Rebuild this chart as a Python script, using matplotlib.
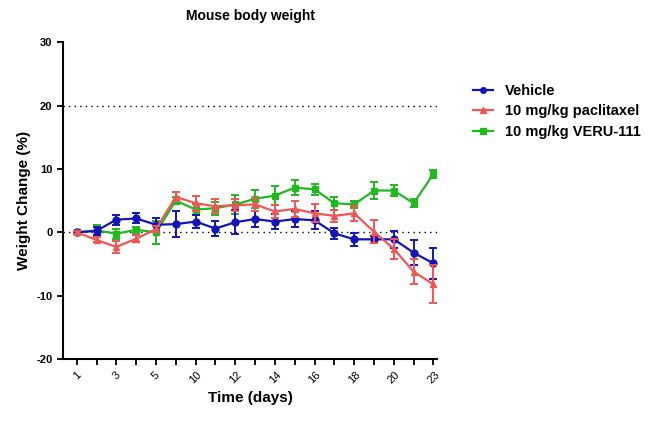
import matplotlib
matplotlib.use("Agg")
import matplotlib.pyplot as plt
from matplotlib.lines import Line2D
import numpy as np

plt.rcParams['font.family'] = ['Liberation Sans', 'DejaVu Sans']

tick_labels = ['1', '', '3', '', '5', '', '10', '', '12', '', '14', '', '16', '', '18', '', '20', '', '23']

vehicle = [0.0, 0.25, 2.0, 2.2, 1.2, 1.3, 1.7, 0.6, 1.6, 2.1, 1.7, 2.1, 1.9, -0.15, -1.1, -1.1, -1.1, -3.2, -4.9]
vehicle_err = [0.2, 0.6, 0.8, 0.8, 1.0, 2.1, 1.0, 1.2, 1.9, 1.2, 1.2, 1.2, 1.4, 0.9, 1.0, 0.6, 1.3, 2.0, 2.4]

paclitaxel = [0.0, -1.2, -2.3, -1.0, 0.5, 5.6, 4.6, 4.1, 4.3, 4.4, 3.3, 3.7, 3.0, 2.6, 3.0, 0.1, -2.6, -6.2, -8.2]
paclitaxel_err = [0.2, 0.4, 1.0, 0.6, 0.5, 0.7, 1.2, 1.1, 1.0, 1.0, 1.0, 1.3, 1.4, 1.0, 1.2, 1.8, 1.6, 2.0, 3.0]

veru = [0.0, 0.3, -0.2, 0.4, 0.0, 5.0, 3.6, 3.8, 4.4, 5.3, 5.8, 7.05, 6.8, 4.6, 4.4, 6.6, 6.6, 4.6, 9.2]
veru_err = [0.2, 0.8, 0.8, 0.5, 1.8, 0.6, 0.8, 1.0, 1.5, 1.4, 1.5, 1.2, 0.9, 1.0, 0.6, 1.3, 0.9, 0.6, 0.6]

series_names = ['Vehicle', '10 mg/kg paclitaxel', '10 mg/kg VERU-111']

x = np.arange(len(tick_labels))

fig = plt.figure(figsize=(6.48, 4.22), dpi=100)
ax = fig.add_axes([0.097, 0.149, 0.578, 0.751])

ax.axhline(0, color='black', linestyle=(0, (1, 3)), linewidth=1, zorder=0)
ax.axhline(20, color='black', linestyle=(0, (1, 3)), linewidth=1, zorder=0)

blue = '#1414B8'
red = '#F25555'
green = '#22B822'
colors = [blue, red, green]
markers = ['o', '^', 's']

ax.errorbar(x, vehicle, yerr=vehicle_err, color=blue, marker='o', markersize=5,
            linewidth=1.6, elinewidth=1.4, capsize=3, capthick=1.4, zorder=3)
ax.errorbar(x, paclitaxel, yerr=paclitaxel_err, color=red, marker='^', markersize=5,
            linewidth=1.6, elinewidth=1.4, capsize=3, capthick=1.4, zorder=4)
ax.errorbar(x, veru, yerr=veru_err, color=green, marker='s', markersize=5,
            linewidth=1.6, elinewidth=1.4, capsize=3, capthick=1.4, zorder=2)

ax.set_xlim(-0.7, 18.2)
ax.set_ylim(-20, 30)
ax.set_yticks([-20, -10, 0, 10, 20, 30])
ax.set_yticklabels(['-20', '-10', '0', '10', '20', '30'], fontweight='bold', fontsize=8)
ax.set_xticks(x)
ax.set_xticklabels(tick_labels, rotation=45, fontsize=8, ha='center')

for s in ['top', 'right']:
    ax.spines[s].set_visible(False)
for s in ['left', 'bottom']:
    ax.spines[s].set_linewidth(1.5)
ax.tick_params(width=1.3, length=4, direction='out')

ax.set_ylabel('Weight Change (%)', fontweight='bold', fontsize=11)
ax.set_xlabel('Time (days)', fontweight='bold', fontsize=11)
ax.set_title('Mouse body weight', fontweight='bold', fontsize=10, pad=16)

handles = [Line2D([], [], color=c, marker=m, markersize=4, linewidth=1.6) for c, m in zip(colors, markers)]
ax.legend(handles, series_names, loc='upper left', bbox_to_anchor=(1.06, 0.91), frameon=False,
          prop={'weight': 'bold', 'size': 10.5}, handlelength=1.4, labelspacing=0.45,
          handletextpad=0.8)

fig.savefig('out.png', dpi=100)
